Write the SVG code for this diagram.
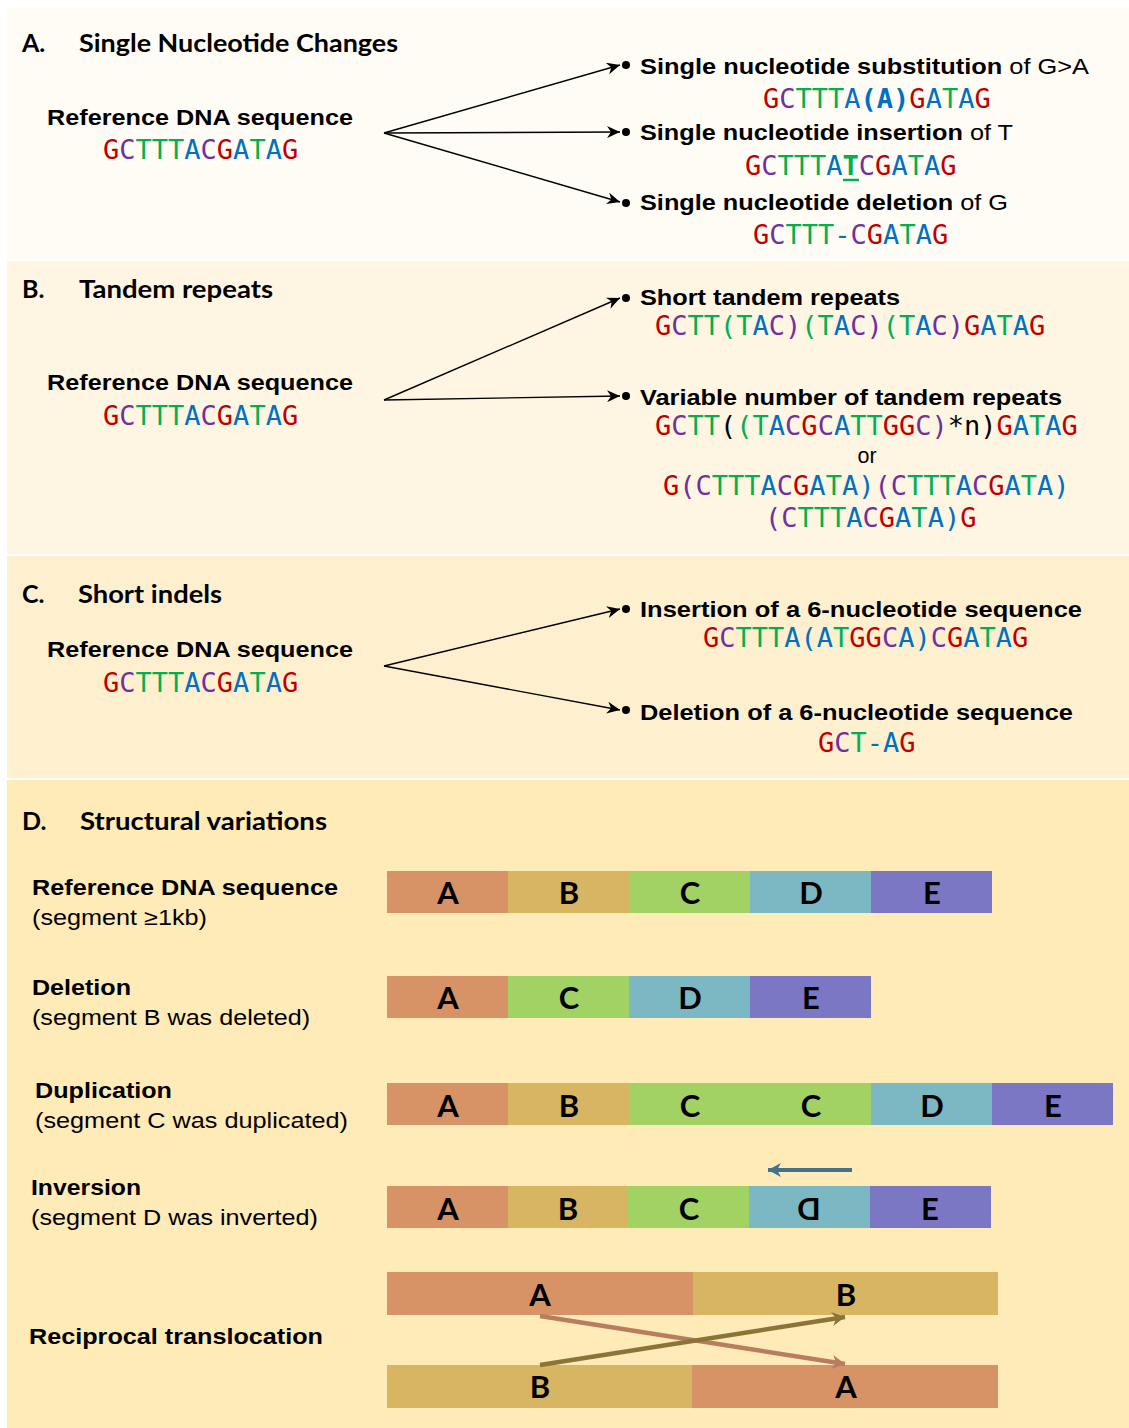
<svg xmlns="http://www.w3.org/2000/svg" width="1129" height="1428" viewBox="0 0 1129 1428">
<style>
.lb{font-family:"Liberation Sans",Arial,sans-serif;font-weight:bold;font-size:21.5px;fill:#000}
.ln{font-family:"Liberation Sans",Arial,sans-serif;font-size:21.5px;fill:#000}
.nb{font-weight:normal}
.ttl{font-family:Lato,"Open Sans",sans-serif;font-weight:bold;font-size:25px;fill:#000}
.seq{font-family:"DejaVu Sans Mono","Liberation Mono",monospace;font-size:27px}
.blk{font-family:Lato,"Open Sans",sans-serif;font-weight:bold;font-size:31px;text-anchor:middle;fill:#000}
.g{fill:#c00000}.c{fill:#7030a0}.t{fill:#00b050}.a{fill:#0070c0}.k{fill:#000}
.arr{stroke:#000;stroke-width:1.4;fill:none;marker-end:url(#ah)}
.dot{fill:#000}
.sA{fill:#d79265}.sB{fill:#d7b562}.sC{fill:#a2d263}.sD{fill:#7cb8c3}.sE{fill:#7b77c5}
</style>
<defs>
<marker id="ah" markerUnits="userSpaceOnUse" markerWidth="14" markerHeight="12" refX="13" refY="6" orient="auto">
<path d="M0,0 L13,6 L0,12 L4,6 z" fill="#000"/>
</marker>
<marker id="ahO" markerUnits="userSpaceOnUse" markerWidth="16" markerHeight="16" refX="14" refY="8" orient="auto">
<path d="M1,1 L14,8 L1,15 L5,8 z" fill="#b97c5e"/>
</marker>
<marker id="ahG" markerUnits="userSpaceOnUse" markerWidth="16" markerHeight="16" refX="14" refY="8" orient="auto">
<path d="M1,1 L14,8 L1,15 L5,8 z" fill="#8b7536"/>
</marker>
<marker id="ahT" markerUnits="userSpaceOnUse" markerWidth="16" markerHeight="16" refX="14" refY="8" orient="auto">
<path d="M1,1 L14,8 L1,15 L5,8 z" fill="#41718b"/>
</marker>
</defs>
<rect width="1129" height="1428" fill="#fff"/>
<g id="backgrounds">
<rect x="7" y="7" width="1122" height="252" fill="#fefcf5"/>
<rect x="7" y="261" width="1122" height="293" fill="#fef6e2"/>
<rect x="7" y="556" width="1122" height="222" fill="#fef0cf"/>
<rect x="7" y="780" width="1122" height="648" fill="#feebb8"/>
</g>

<g id="sectionA">
<text class="ttl" x="22" y="52">A.</text>
<text class="ttl" x="79" y="52" textLength="319" lengthAdjust="spacingAndGlyphs">Single Nucleotide Changes</text>
<g id="refA">
<text class="lb" x="47" y="125" textLength="306" lengthAdjust="spacingAndGlyphs">Reference DNA sequence</text>
<text class="seq" x="103" y="159"><tspan class="g">G</tspan><tspan class="c">C</tspan><tspan class="t">TTT</tspan><tspan class="a">A</tspan><tspan class="c">C</tspan><tspan class="g">G</tspan><tspan class="a">A</tspan><tspan class="t">T</tspan><tspan class="a">A</tspan><tspan class="g">G</tspan></text>
</g>
<g id="subst">
<circle class="dot" cx="626" cy="65" r="4"/>
<text class="lb" x="640" y="74" textLength="449" lengthAdjust="spacingAndGlyphs">Single nucleotide substitution<tspan class="nb"> of G&gt;A</tspan></text>
<text class="seq" x="763" y="108"><tspan class="g">G</tspan><tspan class="c">C</tspan><tspan class="t">TTT</tspan><tspan class="a">A</tspan><tspan class="a" font-weight="bold">(A)</tspan><tspan class="g">G</tspan><tspan class="a">A</tspan><tspan class="t">T</tspan><tspan class="a">A</tspan><tspan class="g">G</tspan></text>
</g>
<g id="insert">
<circle class="dot" cx="626" cy="132" r="4"/>
<text class="lb" x="640" y="140" textLength="373" lengthAdjust="spacingAndGlyphs">Single nucleotide insertion<tspan class="nb"> of T</tspan></text>
<text class="seq" x="745" y="175"><tspan class="g">G</tspan><tspan class="c">C</tspan><tspan class="t">TTT</tspan><tspan class="a">A</tspan><tspan class="t" font-weight="bold">T</tspan><tspan class="c">C</tspan><tspan class="g">G</tspan><tspan class="a">A</tspan><tspan class="t">T</tspan><tspan class="a">A</tspan><tspan class="g">G</tspan></text>
<line x1="843" y1="180" x2="859" y2="180" stroke="#00b050" stroke-width="2.5"/>
</g>
<g id="delete">
<circle class="dot" cx="626" cy="203" r="4"/>
<text class="lb" x="640" y="210" textLength="368" lengthAdjust="spacingAndGlyphs">Single nucleotide deletion<tspan class="nb"> of G</tspan></text>
<text class="seq" x="753" y="244"><tspan class="g">G</tspan><tspan class="c">C</tspan><tspan class="t">TTT</tspan><tspan class="a">-</tspan><tspan class="c">C</tspan><tspan class="g">G</tspan><tspan class="a">A</tspan><tspan class="t">T</tspan><tspan class="a">A</tspan><tspan class="g">G</tspan></text>
</g>
</g>

<g id="sectionB">
<text class="ttl" x="22" y="298">B.</text>
<text class="ttl" x="79" y="298" textLength="194" lengthAdjust="spacingAndGlyphs">Tandem repeats</text>
<g id="refB">
<text class="lb" x="47" y="390" textLength="306" lengthAdjust="spacingAndGlyphs">Reference DNA sequence</text>
<text class="seq" x="103" y="425"><tspan class="g">G</tspan><tspan class="c">C</tspan><tspan class="t">TTT</tspan><tspan class="a">A</tspan><tspan class="c">C</tspan><tspan class="g">G</tspan><tspan class="a">A</tspan><tspan class="t">T</tspan><tspan class="a">A</tspan><tspan class="g">G</tspan></text>
</g>
<g id="str">
<circle class="dot" cx="626" cy="298" r="4"/>
<text class="lb" x="640" y="305" textLength="260" lengthAdjust="spacingAndGlyphs">Short tandem repeats</text>
<text class="seq" x="655" y="335"><tspan class="g">G</tspan><tspan class="c">C</tspan><tspan class="t">TT(T</tspan><tspan class="a">A</tspan><tspan class="c">C)</tspan><tspan class="t">(T</tspan><tspan class="a">A</tspan><tspan class="c">C)</tspan><tspan class="t">(T</tspan><tspan class="a">A</tspan><tspan class="c">C)</tspan><tspan class="g">G</tspan><tspan class="a">A</tspan><tspan class="t">T</tspan><tspan class="a">A</tspan><tspan class="g">G</tspan></text>
</g>
<g id="vntr">
<circle class="dot" cx="626" cy="396" r="4"/>
<text class="lb" x="640" y="405" textLength="422" lengthAdjust="spacingAndGlyphs">Variable number of tandem repeats</text>
<text class="seq" x="655" y="435"><tspan class="g">G</tspan><tspan class="c">C</tspan><tspan class="t">TT</tspan><tspan class="k">(</tspan><tspan class="t">(T</tspan><tspan class="a">A</tspan><tspan class="c">C</tspan><tspan class="g">G</tspan><tspan class="c">C</tspan><tspan class="a">A</tspan><tspan class="t">TT</tspan><tspan class="g">GG</tspan><tspan class="c">C)</tspan><tspan class="k">*n)</tspan><tspan class="g">G</tspan><tspan class="a">A</tspan><tspan class="t">T</tspan><tspan class="a">A</tspan><tspan class="g">G</tspan></text>
<text class="ln" x="867" y="463" text-anchor="middle">or</text>
<text class="seq" x="663" y="495"><tspan class="g">G</tspan><tspan class="c">(C</tspan><tspan class="t">TTT</tspan><tspan class="a">A</tspan><tspan class="c">C</tspan><tspan class="g">G</tspan><tspan class="a">A</tspan><tspan class="t">T</tspan><tspan class="a">A)</tspan><tspan class="c">(C</tspan><tspan class="t">TTT</tspan><tspan class="a">A</tspan><tspan class="c">C</tspan><tspan class="g">G</tspan><tspan class="a">A</tspan><tspan class="t">T</tspan><tspan class="a">A)</tspan></text>
<text class="seq" x="765" y="527"><tspan class="c">(C</tspan><tspan class="t">TTT</tspan><tspan class="a">A</tspan><tspan class="c">C</tspan><tspan class="g">G</tspan><tspan class="a">A</tspan><tspan class="t">T</tspan><tspan class="a">A)</tspan><tspan class="g">G</tspan></text>
</g>
</g>

<g id="sectionC">
<text class="ttl" x="22" y="603">C.</text>
<text class="ttl" x="78" y="603" textLength="144" lengthAdjust="spacingAndGlyphs">Short indels</text>
<g id="refC">
<text class="lb" x="47" y="657" textLength="306" lengthAdjust="spacingAndGlyphs">Reference DNA sequence</text>
<text class="seq" x="103" y="692"><tspan class="g">G</tspan><tspan class="c">C</tspan><tspan class="t">TTT</tspan><tspan class="a">A</tspan><tspan class="c">C</tspan><tspan class="g">G</tspan><tspan class="a">A</tspan><tspan class="t">T</tspan><tspan class="a">A</tspan><tspan class="g">G</tspan></text>
</g>
<g id="ins6">
<circle class="dot" cx="626" cy="609" r="4"/>
<text class="lb" x="640" y="617" textLength="442" lengthAdjust="spacingAndGlyphs">Insertion of a 6-nucleotide sequence</text>
<text class="seq" x="703" y="647"><tspan class="g">G</tspan><tspan class="c">C</tspan><tspan class="t">TTT</tspan><tspan class="a">A(A</tspan><tspan class="t">T</tspan><tspan class="g">GG</tspan><tspan class="c">C</tspan><tspan class="a">A)</tspan><tspan class="c">C</tspan><tspan class="g">G</tspan><tspan class="a">A</tspan><tspan class="t">T</tspan><tspan class="a">A</tspan><tspan class="g">G</tspan></text>
</g>
<g id="del6">
<circle class="dot" cx="626" cy="710" r="4"/>
<text class="lb" x="640" y="720" textLength="433" lengthAdjust="spacingAndGlyphs">Deletion of a 6-nucleotide sequence</text>
<text class="seq" x="818" y="752"><tspan class="g">G</tspan><tspan class="c">C</tspan><tspan class="t">T</tspan><tspan class="a">-A</tspan><tspan class="g">G</tspan></text>
</g>
</g>

<g id="sectionD">
<text class="ttl" x="22" y="830">D.</text>
<text class="ttl" x="80" y="830" textLength="247" lengthAdjust="spacingAndGlyphs">Structural variations</text>

<g id="rowRef">
<text class="lb" x="32" y="895" textLength="306" lengthAdjust="spacingAndGlyphs">Reference DNA sequence</text>
<text class="ln" x="32" y="925" textLength="175" lengthAdjust="spacingAndGlyphs">(segment ≥1kb)</text>
<rect class="sA" x="387" y="871" width="121" height="42"/>
<rect class="sB" x="508" y="871" width="121" height="42"/>
<rect class="sC" x="629" y="871" width="121" height="42"/>
<rect class="sD" x="750" y="871" width="121" height="42"/>
<rect class="sE" x="871" y="871" width="121" height="42"/>
<text class="blk" x="448" y="904">A</text><text class="blk" x="569" y="904">B</text><text class="blk" x="690" y="904">C</text><text class="blk" x="811" y="904">D</text><text class="blk" x="932" y="904">E</text>
</g>

<g id="rowDel">
<text class="lb" x="32" y="995" textLength="99" lengthAdjust="spacingAndGlyphs">Deletion</text>
<text class="ln" x="32" y="1025" textLength="278" lengthAdjust="spacingAndGlyphs">(segment B was deleted)</text>
<rect class="sA" x="387" y="976" width="121" height="42"/>
<rect class="sC" x="508" y="976" width="121" height="42"/>
<rect class="sD" x="629" y="976" width="121" height="42"/>
<rect class="sE" x="750" y="976" width="121" height="42"/>
<text class="blk" x="448" y="1009">A</text><text class="blk" x="569" y="1009">C</text><text class="blk" x="690" y="1009">D</text><text class="blk" x="811" y="1009">E</text>
</g>

<g id="rowDup">
<text class="lb" x="35" y="1098" textLength="137" lengthAdjust="spacingAndGlyphs">Duplication</text>
<text class="ln" x="35" y="1128" textLength="313" lengthAdjust="spacingAndGlyphs">(segment C was duplicated)</text>
<rect class="sA" x="387" y="1083" width="121" height="42"/>
<rect class="sB" x="508" y="1083" width="121" height="42"/>
<rect class="sC" x="629" y="1083" width="121" height="42"/>
<rect class="sC" x="750" y="1083" width="121" height="42"/>
<rect class="sD" x="871" y="1083" width="121" height="42"/>
<rect class="sE" x="992" y="1083" width="121" height="42"/>
<text class="blk" x="448" y="1117">A</text><text class="blk" x="569" y="1117">B</text><text class="blk" x="690" y="1117">C</text><text class="blk" x="811" y="1117">C</text><text class="blk" x="932" y="1117">D</text><text class="blk" x="1053" y="1117">E</text>
</g>

<g id="rowInv">
<text class="lb" x="31" y="1195" textLength="110" lengthAdjust="spacingAndGlyphs">Inversion</text>
<text class="ln" x="31" y="1225" textLength="287" lengthAdjust="spacingAndGlyphs">(segment D was inverted)</text>
<rect class="sA" x="387" y="1186" width="121" height="42"/>
<rect class="sB" x="508" y="1186" width="120" height="42"/>
<rect class="sC" x="628" y="1186" width="121" height="42"/>
<rect class="sD" x="749" y="1186" width="121" height="42"/>
<rect class="sE" x="870" y="1186" width="121" height="42"/>
<text class="blk" x="448" y="1220">A</text><text class="blk" x="568" y="1220">B</text><text class="blk" x="689" y="1220">C</text>
<g transform="translate(809 1220) scale(-1 1)"><text class="blk" x="0" y="0">D</text></g>
<text class="blk" x="930" y="1220">E</text>
</g>

<g id="rowTrans">
<text class="lb" x="29" y="1344" textLength="294" lengthAdjust="spacingAndGlyphs">Reciprocal translocation</text>
<rect class="sA" x="387" y="1272" width="306" height="43"/>
<rect class="sB" x="693" y="1272" width="305" height="43"/>
<rect class="sB" x="387" y="1365" width="305" height="43"/>
<rect class="sA" x="692" y="1365" width="306" height="43"/>
<text class="blk" x="540" y="1306">A</text><text class="blk" x="846" y="1306">B</text>
<text class="blk" x="540" y="1398">B</text><text class="blk" x="846" y="1398">A</text>
</g>
</g>

<g id="connectors">
<line class="arr" x1="384" y1="133" x2="620" y2="65"/>
<line class="arr" x1="384" y1="133" x2="620" y2="132"/>
<line class="arr" x1="384" y1="133" x2="620" y2="202"/>
<line class="arr" x1="384" y1="400" x2="620" y2="298"/>
<line class="arr" x1="384" y1="400" x2="620" y2="396"/>
<line class="arr" x1="384" y1="666" x2="620" y2="609"/>
<line class="arr" x1="384" y1="666" x2="620" y2="710"/>
<line x1="852" y1="1170" x2="768" y2="1170" stroke="#41718b" stroke-width="4" marker-end="url(#ahT)"/>
<line x1="540" y1="1316" x2="845" y2="1364" stroke="#b97c5e" stroke-width="4.5" marker-end="url(#ahO)"/>
<line x1="540" y1="1365" x2="845" y2="1317" stroke="#8b7536" stroke-width="4.5" marker-end="url(#ahG)"/>
</g>
</svg>
